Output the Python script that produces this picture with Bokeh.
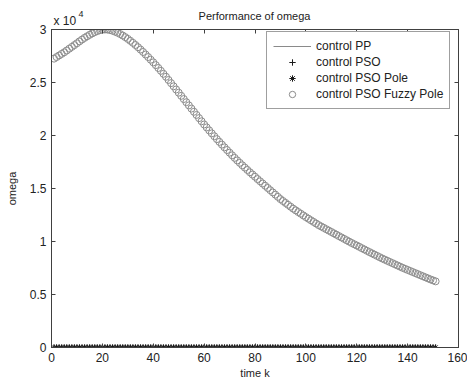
from bokeh.plotting import figure
from bokeh.models import Range1d, LinearAxis, Label, Legend, LegendItem, FixedTicker
from bokeh.embed import file_html
from bokeh.resources import INLINE

# ---------------- data ----------------
time_k = list(range(1, 152))

omega_fuzzy_pole = [
    27250, 27400, 27550, 27700, 27850, 28020, 28190, 28360, 28530, 28700,
    28880, 29050, 29210, 29360, 29500, 29630, 29750, 29850, 29930, 29980,
    30000, 29990, 29950, 29880, 29790, 29690, 29570, 29430, 29280, 29110,
    28930, 28740, 28540, 28330, 28110, 27880, 27640, 27400, 27150, 26900,
    26640, 26370, 26100, 25820, 25540, 25240, 24940, 24640, 24340, 24040,
    23740, 23440, 23140, 22840, 22540, 22240, 21940, 21640, 21340, 21040,
    20760, 20480, 20200, 19930, 19660, 19400, 19140, 18880, 18630, 18380,
    18130, 17890, 17650, 17420, 17190, 16970, 16750, 16530, 16320, 16110,
    15890, 15680, 15470, 15260, 15050, 14840, 14630, 14420, 14210, 14000,
    13820, 13640, 13460, 13280, 13100, 12940, 12780, 12620, 12460, 12300,
    12150, 12000, 11850, 11700, 11550, 11420, 11290, 11160, 11030, 10900,
    10770, 10640, 10510, 10380, 10250, 10120, 9990, 9860, 9740, 9620,
    9500, 9370, 9250, 9120, 9000, 8880, 8760, 8640, 8520, 8400,
    8290, 8180, 8070, 7960, 7850, 7740, 7630, 7520, 7420, 7320,
    7220, 7120, 7020, 6920, 6820, 6720, 6620, 6520, 6420, 6330,
    6240,
]

# the three other controllers stay at (visually) zero
omega_pp = [0.0] * 151
omega_pso = [0.0] * 151
omega_pso_pole = [0.0] * 151

x_ticks = [0, 20, 40, 60, 80, 100, 120, 140, 160]
y_ticks = [0, 5000, 10000, 15000, 20000, 25000, 30000]
y_tick_labels = ["0", "0.5", "1", "1.5", "2", "2.5", "3"]

title_text = "Performance of omega"
x_label = "time k"
y_label = "omega"
series_names = ["control PP", "control PSO", "control PSO Pole", "control PSO Fuzzy Pole"]

# ---------------- figure ----------------
FONT = "Liberation Sans"
AXC = "#404040"
TXT = "#222222"

p = figure(width=467, height=382, output_backend="svg", toolbar_location=None,
           x_range=Range1d(0, 160), y_range=Range1d(0, 30000),
           min_border_left=51, min_border_right=9, min_border_top=29,
           min_border_bottom=35, x_axis_label=x_label, y_axis_label=y_label)
p.title.visible = False
p.xgrid.visible = False
p.ygrid.visible = False
p.outline_line_color = AXC
p.background_fill_color = "white"
p.border_fill_color = "white"

for ax in p.xaxis:
    ax.ticker = FixedTicker(ticks=x_ticks)
for ax in p.yaxis:
    ax.ticker = FixedTicker(ticks=y_ticks)
    ax.major_label_overrides = {t: l for t, l in zip(y_ticks, y_tick_labels)}

for ax in list(p.xaxis) + list(p.yaxis):
    ax.major_tick_in = 4
    ax.major_tick_out = 0
    ax.minor_tick_line_color = None
    ax.axis_line_color = AXC
    ax.major_tick_line_color = AXC
    ax.major_label_text_font = FONT
    ax.major_label_text_font_size = "12px"
    ax.major_label_text_color = TXT
    ax.axis_label_text_font = FONT
    ax.axis_label_text_font_size = "11px"
    ax.axis_label_text_font_style = "normal"
    ax.axis_label_text_color = TXT
    ax.major_label_standoff = 5

p.xaxis.axis_label_standoff = 2
p.yaxis.axis_label_standoff = 9

top_axis = LinearAxis(ticker=FixedTicker(ticks=x_ticks), major_label_text_font_size="0px",
                      major_tick_in=4, major_tick_out=0, minor_tick_line_color=None,
                      axis_line_color=AXC, major_tick_line_color=AXC, major_label_standoff=0)
right_axis = LinearAxis(ticker=FixedTicker(ticks=y_ticks), major_label_text_font_size="0px",
                        major_tick_in=4, major_tick_out=0, minor_tick_line_color=None,
                        axis_line_color=AXC, major_tick_line_color=AXC, major_label_standoff=0)
p.add_layout(top_axis, "above")
p.add_layout(right_axis, "right")

# ---------------- glyphs ----------------
r_pp = p.line(time_k, omega_pp, line_color="#8a8a8a", line_width=1)
r_pso = p.scatter(time_k, omega_pso, marker="cross", size=6, line_color="#1a1a1a",
                  line_width=1)
r_pole = p.scatter(time_k, omega_pso_pole, marker="asterisk", size=6, line_color="#1a1a1a",
                   line_width=1)
r_fuzzy = p.scatter(time_k, omega_fuzzy_pole, marker="circle", size=7, fill_color=None,
                    line_color="#8c8c8c", line_width=1)

legend = Legend(items=[LegendItem(label=series_names[0], renderers=[r_pp]),
                       LegendItem(label=series_names[1], renderers=[r_pso]),
                       LegendItem(label=series_names[2], renderers=[r_pole]),
                       LegendItem(label=series_names[3], renderers=[r_fuzzy])],
                location=(215, 238), label_text_font=FONT, label_text_font_size="12px",
                label_text_color=TXT, label_height=16, glyph_height=16, glyph_width=38,
                spacing=0, padding=6, label_standoff=5, margin=0,
                border_line_color=AXC, border_line_width=1, background_fill_alpha=1)
p.add_layout(legend)

# ---------------- texts (side panels, so they are not clipped) ----------------
p.add_layout(Label(x=2, y=9, x_units="screen", y_units="screen", text="x 10",
                   text_align="left", text_baseline="middle", text_font=FONT,
                   text_font_size="12px", text_color=TXT), "above")
p.add_layout(Label(x=203, y=0, x_units="screen", y_units="screen", text=title_text,
                   text_align="center", text_baseline="middle", text_font=FONT,
                   text_font_size="11px", text_color=TXT), "above")
p.add_layout(Label(x=-380, y=334, x_units="screen", y_units="screen", text="4",
                   text_align="left", text_baseline="middle", text_font=FONT,
                   text_font_size="9px", text_color=TXT), "right")

open("out.html", "w").write(file_html(p, INLINE))
